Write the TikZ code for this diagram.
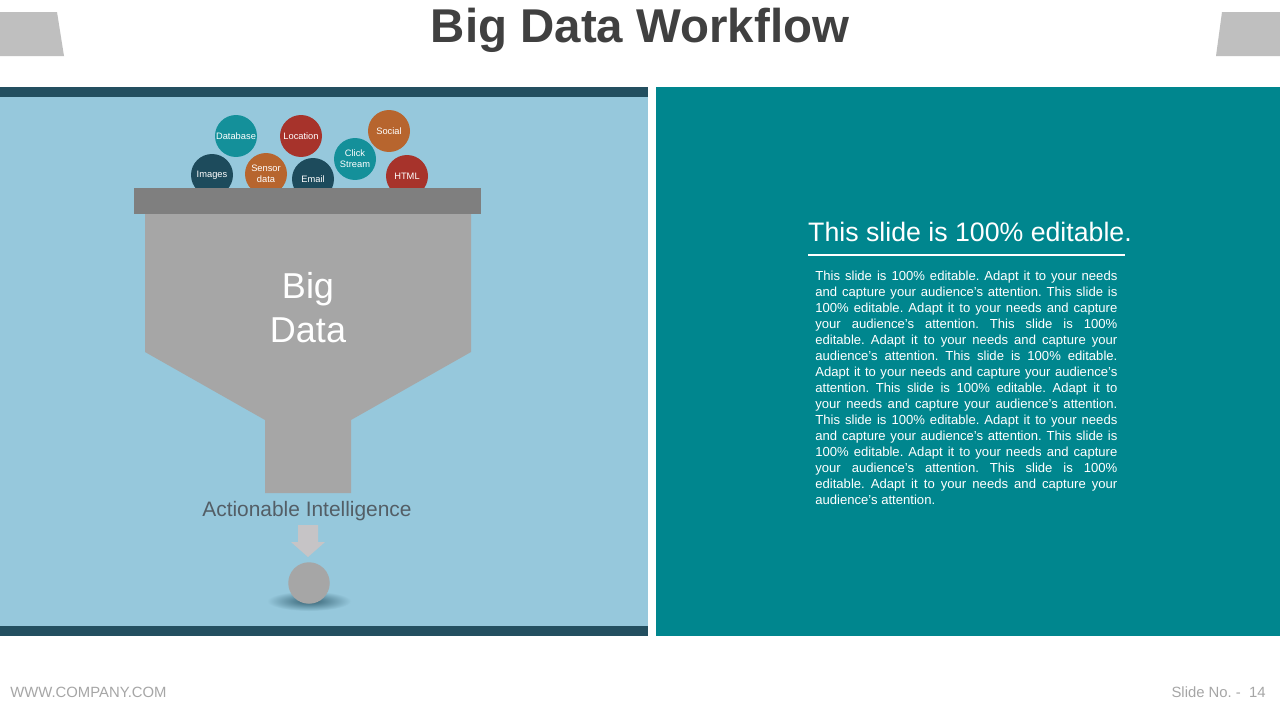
\documentclass[tikz,border=0pt]{standalone}
\usepackage{fontspec}
\setmainfont{Liberation Sans}
\usetikzlibrary{positioning}
\definecolor{panelblue}{HTML}{96C8DC}
\definecolor{paneldark}{HTML}{234F60}
\definecolor{panelteal}{HTML}{00868E}
\definecolor{titlegray}{HTML}{404040}
\definecolor{tabgray}{HTML}{BFBFBF}
\definecolor{funnelbar}{HTML}{7F7F7F}
\definecolor{funnelbody}{HTML}{A6A6A6}
\definecolor{bubdark}{HTML}{1D4B5C}
\definecolor{bubteal}{HTML}{14909A}
\definecolor{bubred}{HTML}{A7332B}
\definecolor{buborange}{HTML}{B7652E}
\definecolor{labelgray}{HTML}{535E66}
\definecolor{footgray}{HTML}{A6A6A6}
\definecolor{arrowgray}{HTML}{C6C4C6}

\begin{document}
\frenchspacing
\begin{tikzpicture}[x=0.02cm,y=-0.02cm,
  bubble/.style={circle,minimum size=0.84cm,inner sep=0pt,text=white,align=center,
    font=\fontsize{5.3}{6.2}\selectfont}]
  \useasboundingbox[fill=white] (0,0) rectangle (1280,720);
  % header tabs and title
  \fill[tabgray] (0,12) -- (57,12) -- (64,56) -- (0,56) -- cycle;
  \fill[tabgray] (1222,12) -- (1280,12) -- (1280,56) -- (1216,56) -- cycle;
  \node[titlegray,anchor=base,font=\fontsize{27}{30}\selectfont\bfseries] (title) at (640,42) {Big Data Workflow};
  % left panel
  \fill[panelblue] (0,87) rectangle (648,636);
  \fill[paneldark] (0,87) rectangle (648,97);
  \fill[paneldark] (0,626) rectangle (648,636);
  % right panel
  \fill[panelteal] (656,87) rectangle (1280,636);
  % data sources
  \node[bubble,fill=bubteal] (database) at (236,136) {Database};
  \node[bubble,fill=bubred] (location) at (301,136) {Location};
  \node[bubble,fill=buborange] (social) at (389,131) {Social};
  \node[bubble,fill=bubteal] (click) at (355,159) {Click\\Stream};
  \node[bubble,fill=bubdark] (images) at (212,175) {Images};
  \node[bubble,fill=buborange] (sensor) at (266,174) {Sensor\\data};
  \node[bubble,fill=bubdark] (email) at (313,179) {Email};
  \node[bubble,fill=bubred] (html) at (407,176) {HTML};
  % funnel
  \fill[funnelbody] (145,214) -- (471,214) -- (471,352) -- (351,420) -- (351,493)
    -- (265,493) -- (265,420) -- (145,352) -- cycle;
  \fill[funnelbar] (134,188) rectangle (481,214);
  \node[white,anchor=base,font=\fontsize{20.5}{25}\selectfont,align=center] (bigdata) at (308,342) {Big\\Data};
  \node[labelgray,anchor=base,font=\fontsize{11.9}{14}\selectfont] (action) at (307,516) {Actionable Intelligence};
  % output
  \fill[arrowgray] (298,525) -- (318,525) -- (318,542) -- (325,542)
    -- (308,557) -- (291,542) -- (298,542) -- cycle;
  \shade[inner color=paneldark!85!panelblue,outer color=panelblue] (309,601) ellipse [x radius=42,y radius=10];
  \node[circle,fill=funnelbody,minimum size=0.83cm,inner sep=0pt] (ball) at (309,583) {};
  % text on the right
  \node[white,anchor=base,font=\fontsize{15.2}{18}\selectfont] (head) at (970,241) {This slide is 100\% editable.};
  \draw[white,line width=0.8pt] (808,255) -- (1125,255);
  \node[white,anchor=north west,inner sep=0pt,text width=171.9pt,align=justify,
    font=\fontsize{7.45}{9.1}\selectfont] (body) at (815,271) {%
    This slide is 100\% editable. Adapt it to your needs\linebreak
    and capture your audience's attention. This slide is\linebreak
    100\% editable. Adapt it to your needs and capture\linebreak
    your audience's attention. This slide is 100\%\linebreak
    editable. Adapt it to your needs and capture your\linebreak
    audience's attention. This slide is 100\% editable.\linebreak
    Adapt it to your needs and capture your audience's\linebreak
    attention. This slide is 100\% editable. Adapt it to\linebreak
    your needs and capture your audience's attention.\linebreak
    This slide is 100\% editable. Adapt it to your needs\linebreak
    and capture your audience's attention. This slide is\linebreak
    100\% editable. Adapt it to your needs and capture\linebreak
    your audience's attention. This slide is 100\%\linebreak
    editable. Adapt it to your needs and capture your\linebreak
    audience's attention.};
  % footer
  \node[footgray,anchor=base west,inner sep=0pt,font=\fontsize{8.45}{10}\selectfont] (site) at (10,697) {WWW.COMPANY.COM};
  \node[footgray,anchor=base east,inner sep=0pt,font=\fontsize{8.45}{10}\selectfont] (slideno) at (1266,697) {Slide No. -\ \ 14};
\end{tikzpicture}
\end{document}
